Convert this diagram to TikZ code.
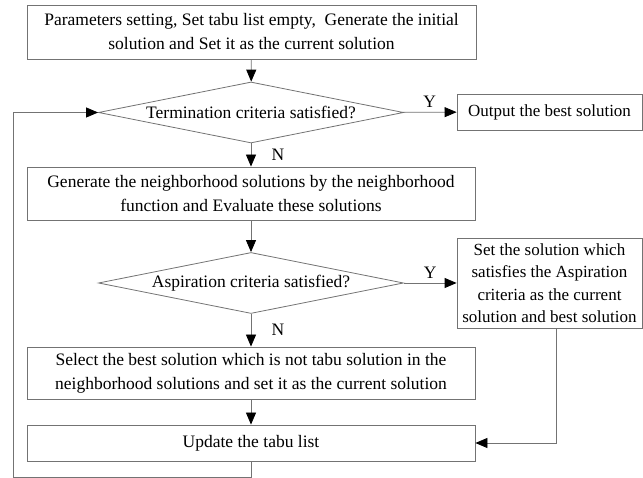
\documentclass[tikz,border=0pt]{standalone}
\usepackage{fontspec}
\setmainfont{Liberation Serif}
\usetikzlibrary{shapes.geometric,arrows.meta}
\begin{document}
\begin{tikzpicture}[x=1pt,y=1pt,>={Triangle[length=12pt,width=10pt,color=black]},
		box/.style={draw=black!55,line width=0.8pt,align=center,inner sep=0pt},
		cond/.style={diamond,aspect=5,draw=black!55,line width=0.8pt,inner sep=0pt,minimum width=305pt,minimum height=61pt},
		line/.style={draw=black!55,line width=0.8pt},
		every node/.style={font=\fontsize{17.5}{24}\selectfont}]
		\useasboundingbox (0,0) rectangle (643,478);
		\node[box,minimum width=449pt,minimum height=54pt] (init) at (251.5,446) {Parameters setting, Set tabu list empty,\ \ Generate the initial\\solution and Set it as the current solution};
		\node[cond] (term) at (251,365.5) {Termination criteria satisfied?};
		\node[box,minimum width=185pt,minimum height=36pt,font=\fontsize{17}{22.5}\selectfont] (output) at (549.5,366) {Output the best solution};
		\node[box,minimum width=448pt,minimum height=53pt] (gen) at (251,284.5) {Generate the neighborhood solutions by the neighborhood\\function and Evaluate these solutions};
		\node[cond] (asp) at (251,195) {Aspiration criteria satisfied?};
		\node[box,minimum width=185pt,minimum height=90pt,font=\fontsize{17}{22.5}\selectfont] (setbest) at (549.5,195) {Set the solution which\\satisfies the Aspiration\\criteria as the current\\solution and best solution};
		\node[box,minimum width=448pt,minimum height=52pt] (select) at (251,105) {Select the best solution which is not tabu solution in the\\neighborhood solutions and set it as the current solution};
		\node[box,minimum width=448pt,minimum height=36pt] (update) at (251,35) {Update the tabu list};
		\coordinate (c1) at (251,1);
		\coordinate (c2) at (13,1);
		\coordinate (c3) at (13,365.5);
		\coordinate (c4) at (556,35);

		\draw[line,->] (init) -- (term);
		\draw[line,->] (term) -- node[above=1pt]{Y} (output);
		\draw[line,->] (term) -- node[right=17pt]{N} (gen);
		\draw[line,->] (gen) -- (asp);
		\draw[line,->] (asp) -- node[above=1pt]{Y} (setbest);
		\draw[line,->] (asp) -- node[right=17pt]{N} (select);
		\draw[line,->] (select) -- (update);
		\draw[line,->] (setbest.south -| c4) -- (c4) -- (update);
		\draw[line,->] (update) -- (c1) -- (c2) -- (c3) -- (term);

		\end{tikzpicture}
\end{document}
